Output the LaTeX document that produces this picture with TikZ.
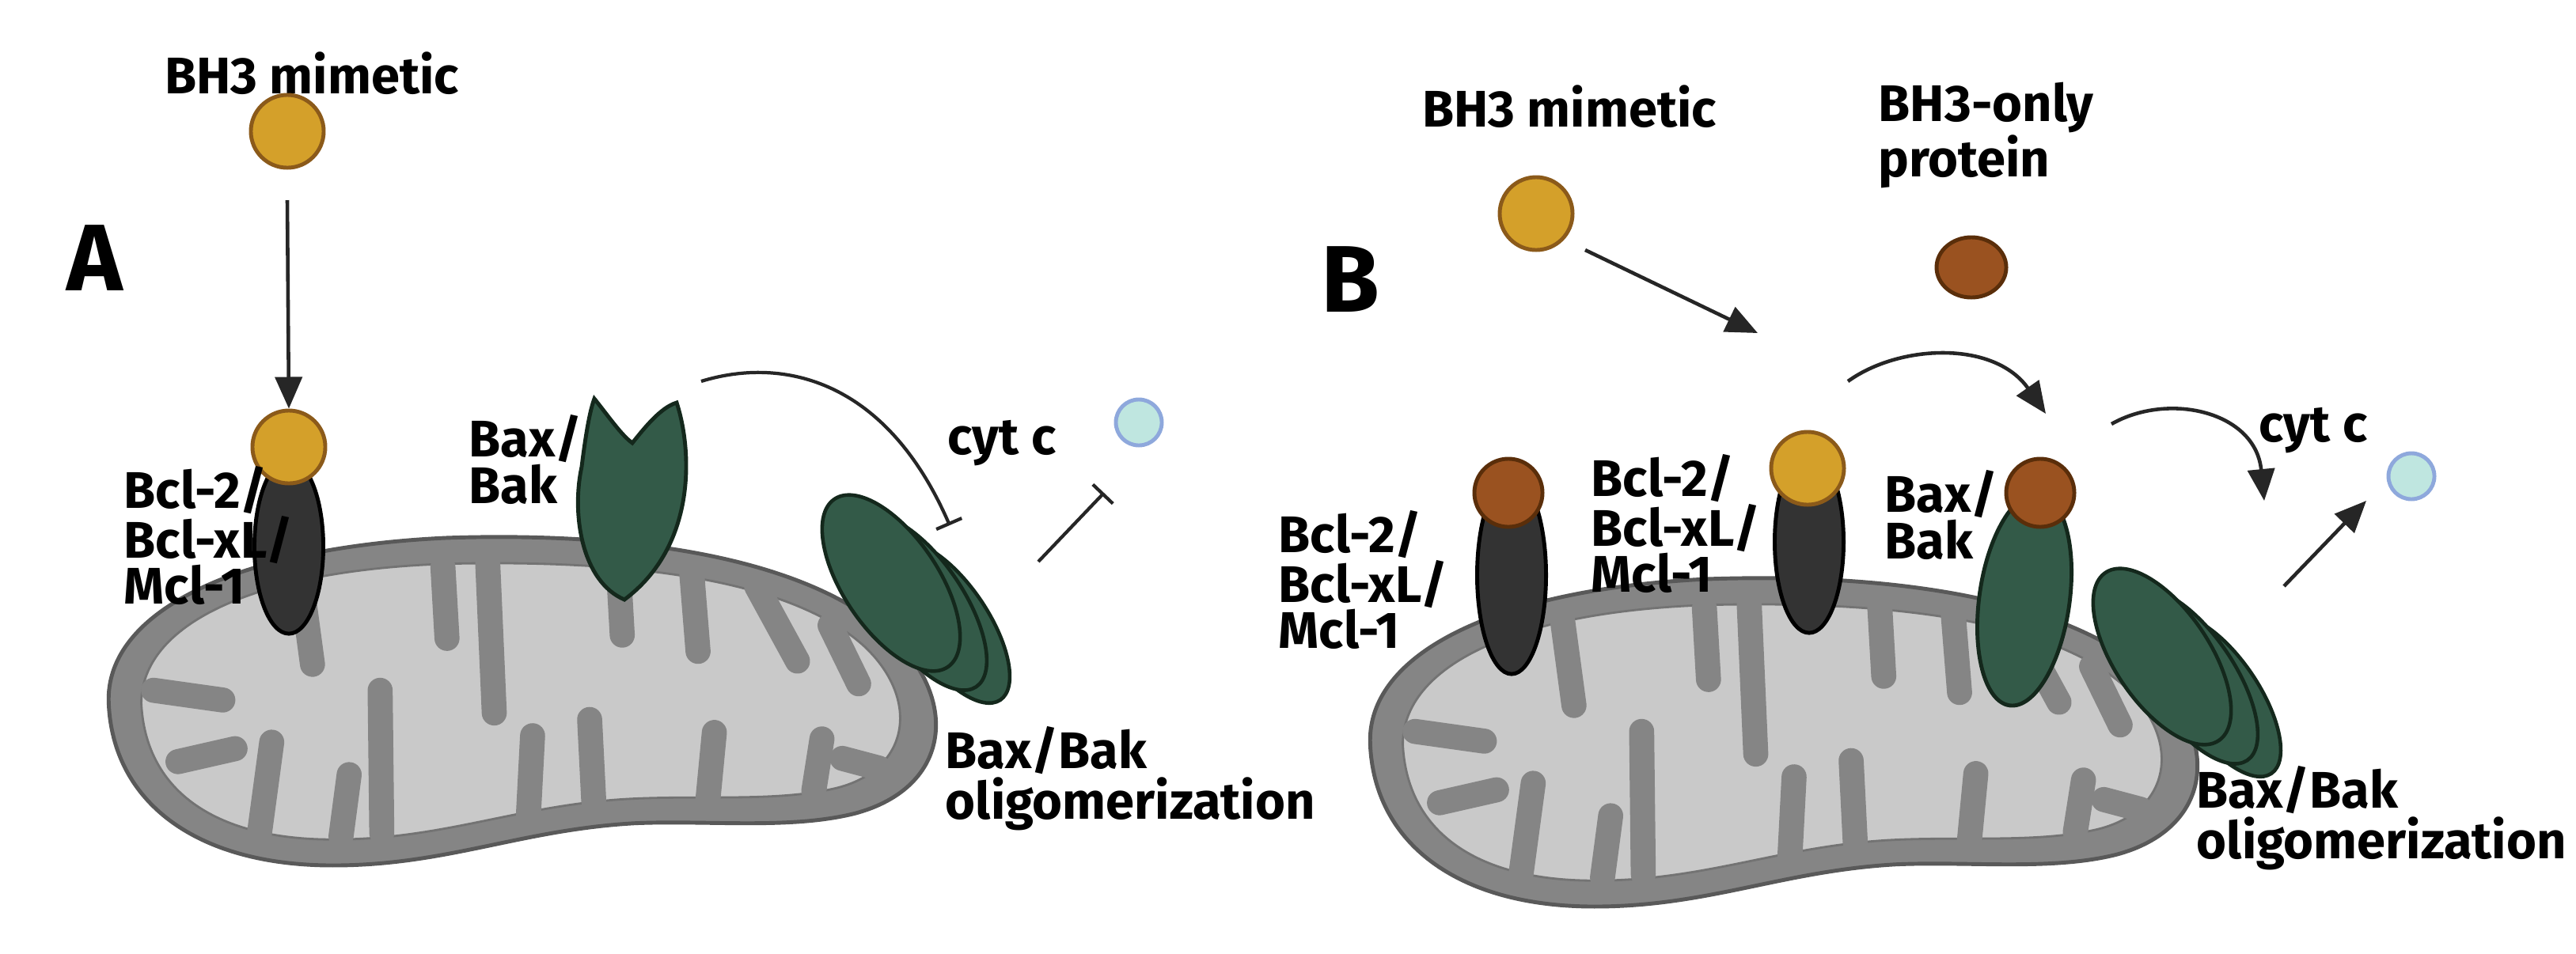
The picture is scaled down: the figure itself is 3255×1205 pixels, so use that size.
\documentclass[tikz,border=0pt]{standalone}
\usepackage{fontspec}
\setmainfont{Fira Sans}
\usetikzlibrary{arrows.meta,shapes.geometric}
\definecolor{gold}{HTML}{D4A02A}\definecolor{goldD}{HTML}{8B5A1A}
\definecolor{brn}{HTML}{9A5220}\definecolor{brnD}{HTML}{5A2E0A}
\definecolor{grn}{HTML}{335A48}\definecolor{grnD}{HTML}{14281C}
\definecolor{cyt}{HTML}{BFE6E0}\definecolor{cytD}{HTML}{8EA8DC}
\definecolor{mitoO}{HTML}{858585}\definecolor{mitoI}{HTML}{C9C9C9}
\tikzset{
 lab/.style={font=\bfseries\fontsize{18.5}{16.5}\selectfont, align=left, inner sep=0pt},
 big/.style={font=\bfseries\fontsize{34}{34}\selectfont, inner sep=0pt},
 mim/.style={circle, fill=gold, draw=goldD, line width=1.4pt, minimum size=0.92cm, inner sep=0pt},
 bho/.style={circle, fill=brn, draw=brnD, line width=1.4pt, minimum size=0.86cm, inner sep=0pt},
 bcl/.style={ellipse, fill=black!80, draw=black, line width=1.4pt, minimum width=0.87cm, minimum height=2.2cm, inner sep=0pt},
 cytc/.style={circle, fill=cyt, draw=cytD, line width=1.4pt, minimum size=0.58cm, inner sep=0pt},
 olig/.style={fill=grn, draw=grnD, line width=1.3pt},
 arr/.style={line width=1.3pt, draw=black!85, -{Triangle[length=0.4cm,width=0.34cm]}},
 inh/.style={line width=1.2pt, draw=black!85, -{Bar[width=0.35cm]}},
 crista/.style={line width=9pt, draw=mitoO, line cap=round},
}
\newcommand{\mymito}{%
 \begin{scope}[shift={(-12,-95)}, xscale=1.03, yscale=0.82]
 \fill[mitoO, draw=black!65, line width=1.4pt] (145,1200) .. controls (140,1060) and (300,960) .. (560,945) .. controls (800,935) and (1000,980) .. (1100,1090) .. controls (1190,1190) and (1180,1330) .. (1060,1370) .. controls (980,1395) and (880,1380) .. (790,1385) .. controls (650,1395) and (560,1450) .. (420,1450) .. controls (250,1450) and (150,1350) .. (145,1200) -- cycle;
 \fill[mitoI, draw=black!55, line width=0.8pt] (185,1200) .. controls (185,1080) and (320,995) .. (560,985) .. controls (790,978) and (980,1010) .. (1070,1110) .. controls (1140,1190) and (1130,1300) .. (1040,1330) .. controls (970,1352) and (880,1342) .. (790,1347) .. controls (650,1355) and (560,1410) .. (420,1410) .. controls (270,1410) and (190,1330) .. (185,1200) -- cycle;
 \foreach \xa/\ya/\xb/\yb in {380/1000/395/1140, 555/990/560/1100, 610/985/618/1215, 770/985/775/1095, 860/995/868/1120, 940/1020/990/1135, 1030/1080/1065/1170,
   200/1180/285/1195, 230/1290/300/1270, 330/1400/345/1260, 430/1405/440/1310, 480/1400/478/1180, 660/1370/665/1250, 740/1350/735/1225, 880/1350/888/1245, 1010/1335/1020/1255, 1090/1300/1045/1285}
   \draw[crista] (\xa,\ya) -- (\xb,\yb);
 \end{scope}}
\newcommand{\myolig}[2]{%
 \begin{scope}[shift={(#1,#2)}]
  \draw[olig] (36,25) ellipse [x radius=118, y radius=50, rotate=-56];
  \draw[olig] (0,0) ellipse [x radius=128, y radius=55, rotate=-56];
  \draw[olig] (-36,-25) ellipse [x radius=128, y radius=60, rotate=-56];
 \end{scope}}
\begin{document}
\begin{tikzpicture}[x=0.01cm,y=-0.01cm]
\useasboundingbox[fill=white] (0,0) rectangle (3255,1205);
% ---------- Panel A
\mymito
\node[big] (A) at (120,326) {A};
\node[lab] (tA) at (394,93) {BH3 mimetic};
\node[mim] (mA) at (363,166) {};
\node[bcl] (bclA) at (365,691) {};
\node[mim] (mA2) at (365,565) {};
\coordinate (aA1) at (363,253);
\draw[arr] (aA1) -- (mA2.north);
\node[lab, anchor=west] (lA) at (156,677) {Bcl-2/\\Bcl-xL/\\Mcl-1};
\node[lab, anchor=west] (lbA) at (592,581) {Bax/\\Bak};
\path[fill=grn, draw=grnD, line width=1.4pt] (789,758) .. controls (735,735) and (722,650) .. (735,590) .. controls (740,550) and (745,520) .. (751,504) .. controls (768,525) and (785,550) .. (799,560) .. controls (815,540) and (835,515) .. (855,509) .. controls (875,570) and (880,690) .. (789,758) -- cycle;
\coordinate (baxA) at (886,482);
\coordinate (inA) at (1200,664);
\draw[inh] (baxA) .. controls (990,450) and (1120,480) .. (inA);
\myolig{1162}{762}
\node[lab] (cA) at (1266,560) {cyt c};
\node[cytc] (cyA) at (1439,534) {};
\coordinate (oA) at (1312,710);
\coordinate (oA2) at (1395,623);
\draw[inh] (oA) -- (oA2);
\node[lab, anchor=west] (olA) at (1194,984) {Bax/Bak\\oligomerization};
% ---------- Panel B
\begin{scope}[shift={(1594,52)}]\mymito\end{scope}
\node[big] (B) at (1706,353) {B};
\node[lab] (tB) at (1983,135) {BH3 mimetic};
\node[lab, anchor=west] (tB2) at (2373,171) {BH3-only\\protein};
\node[mim] (mB) at (1941,270) {};
\node[bho, minimum width=0.88cm, minimum height=0.76cm, ellipse] (pB) at (2491,338) {};
\coordinate (aB1) at (2003,316);
\coordinate (aB2) at (2221,421);
\draw[arr] (aB1) -- (aB2);
\node[bcl, minimum height=2.5cm] (bclB1) at (1910,727) {};
\node[bho] (pB1) at (1906,623) {};
\node[bcl, minimum height=2.3cm] (bclB2) at (2286,685) {};
\node[mim] (mB2) at (2284,592) {};
\node[lab, anchor=west] (lB1) at (1615,733) {Bcl-2/\\Bcl-xL/\\Mcl-1};
\node[lab, anchor=west] (lB2) at (2010,662) {Bcl-2/\\Bcl-xL/\\Mcl-1};
\node[lab, anchor=west] (lbB) at (2381,651) {Bax/\\Bak};
\node[ellipse, fill=grn, draw=grnD, line width=1.4pt, minimum width=1.14cm, minimum height=2.7cm, rotate=-8] (baxB) at (2558,758) {};
\node[bho] (pB2) at (2578,623) {};
\coordinate (cB1) at (2335,482);
\coordinate (cB2) at (2585,523);
\draw[arr] (cB1) .. controls (2400,435) and (2520,430) .. (cB2);
\coordinate (cB3) at (2668,536);
\coordinate (cB4) at (2861,633);
\draw[arr] (cB3) .. controls (2740,495) and (2850,520) .. (cB4);
\myolig{2768}{855}
\node[lab] (cB) at (2923,544) {cyt c};
\node[cytc] (cyB) at (3047,602) {};
\coordinate (oB) at (2886,741);
\coordinate (oB2) at (2990,633);
\draw[arr] (oB) -- (oB2);
\node[lab, anchor=west] (olB) at (2775,1034) {Bax/Bak\\oligomerization};
\end{tikzpicture}
\end{document}
